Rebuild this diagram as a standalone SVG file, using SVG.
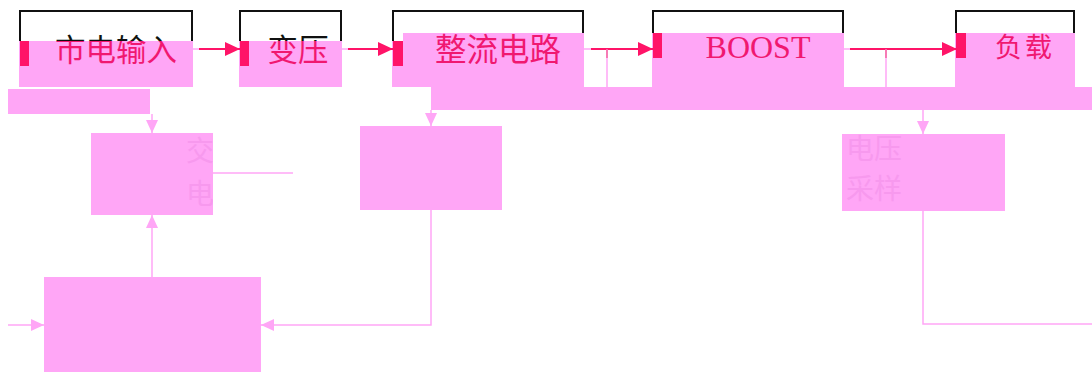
<svg xmlns="http://www.w3.org/2000/svg" width="1092" height="374" viewBox="0 0 1092 374">
<style>
.pk{fill:#FFA6F6}
.rb{fill:#FF1468}
.ol{fill:none;stroke:#111;stroke-width:2}
.cj{font-family:"Noto Sans CJK SC","Noto Sans CJK JP",sans-serif}
.red{fill:#F01870}
.faint{fill:#F799EE}
.pl{fill:none;stroke:#FFA6F6;stroke-width:1.5}
.rl{fill:none;stroke:#FF1468;stroke-width:2}
</style>
<defs>
<linearGradient id="g1" gradientUnits="userSpaceOnUse" x1="0" y1="30" x2="0" y2="70">
<stop offset="0.275" stop-color="#111"/><stop offset="0.275" stop-color="#F01870"/>
</linearGradient>
<marker id="ra" viewBox="0 0 15 14" refX="15" refY="7" markerWidth="15" markerHeight="14" markerUnits="userSpaceOnUse" orient="auto"><path d="M0 0L15 7L0 14z" fill="#FF1468"/></marker>
<marker id="pa" viewBox="0 0 13 12" refX="13" refY="6" markerWidth="13" markerHeight="12" markerUnits="userSpaceOnUse" orient="auto"><path d="M0 0L13 6L0 12z" fill="#FFA6F6"/></marker>
<clipPath id="c1"><rect x="91" y="133" width="122" height="82"/></clipPath>
<clipPath id="c2"><rect x="842" y="134" width="163" height="77"/></clipPath>
<clipPath id="c3"><rect x="653" y="37" width="190" height="50"/></clipPath>
</defs>

<g id="bands">
<rect class="pk" x="8" y="89" width="142" height="25"/>
<rect class="pk" x="431" y="87" width="661" height="23"/>
</g>

<g id="n1">
<rect class="ol" x="20" y="11" width="172" height="40"/>
<rect class="pk" x="19" y="41" width="174" height="46"/>
<rect class="rb" x="20" y="41" width="9" height="25"/>
<text class="cj" x="116" y="61" font-size="30.5" text-anchor="middle" fill="url(#g1)">市电输入</text>
</g>

<g id="n2">
<rect class="ol" x="240" y="11" width="101" height="40"/>
<rect class="pk" x="239" y="41" width="103" height="46"/>
<rect class="rb" x="240" y="41" width="9" height="25"/>
<text class="cj" x="298" y="61" font-size="30.5" text-anchor="middle" fill="url(#g1)">变压</text>
</g>

<g id="n3">
<rect class="ol" x="393" y="11" width="190" height="40"/>
<path class="pk" d="M403 33H584V87H392V41H403z"/>
<rect class="rb" x="393" y="41" width="10" height="25"/>
<text class="cj red" x="498" y="61" font-size="31.5" text-anchor="middle">整流电路</text>
</g>

<g id="n4">
<rect class="ol" x="653" y="11" width="190" height="40"/>
<rect class="pk" x="652" y="33" width="192" height="54"/>
<rect class="rb" x="653" y="33" width="9" height="25"/>
<text x="758" y="58" font-family="Liberation Serif,serif" font-size="32" text-anchor="middle" class="red" clip-path="url(#c3)">BOOST</text>
</g>

<g id="n5">
<rect class="ol" x="956" y="11" width="118" height="40"/>
<rect class="pk" x="955" y="33" width="120" height="54"/>
<rect class="rb" x="956" y="33" width="10" height="25"/>
<text class="cj red" x="1025" y="57" font-size="27" text-anchor="middle" letter-spacing="3">负载</text>
</g>

<g id="n6">
<rect class="pk" x="91" y="133" width="122" height="82"/>
<g clip-path="url(#c1)">
<text class="cj faint" x="186" y="161" font-size="28">交</text>
<text class="cj faint" x="186" y="204" font-size="28">电</text>
</g>
</g>

<g id="n7">
<rect class="pk" x="360" y="126" width="142" height="84"/>
</g>

<g id="n8">
<rect class="pk" x="842" y="134" width="163" height="77"/>
<g clip-path="url(#c2)">
<text class="cj faint" x="846" y="159" font-size="28">电压</text>
<text class="cj faint" x="846" y="199" font-size="28">采样</text>
</g>
</g>

<g id="n9">
<rect class="pk" x="44" y="277" width="217" height="95"/>
</g>

<g id="connectors">
<path class="pl" d="M192 49H199M341 49H348M583 49H591M843 49H850"/>
<path class="rl" d="M199 49H240" marker-end="url(#ra)"/>
<path class="rl" d="M348 49H393" marker-end="url(#ra)"/>
<path class="rl" d="M591 49H653" marker-end="url(#ra)"/>
<path class="rl" d="M850 49H957" marker-end="url(#ra)"/>
<path class="pl" d="M607 49V87M886 49V87"/>
<path d="M607 49V58M886 49V58" stroke="#F0508A" stroke-width="1.2" fill="none"/>
<path class="pl" d="M152 114V133" marker-end="url(#pa)"/>
<path class="pl" d="M431 110V126" marker-end="url(#pa)"/>
<path class="pl" d="M923 110V134" marker-end="url(#pa)"/>
<path class="pl" d="M152 277V215" marker-end="url(#pa)"/>
<path class="pl" d="M213 173H293"/>
<path class="pl" d="M8 325H44" marker-end="url(#pa)"/>
<path class="pl" d="M431 210V325H261" marker-end="url(#pa)"/>
<path class="pl" d="M923 211V324H1092"/>
</g>
</svg>
